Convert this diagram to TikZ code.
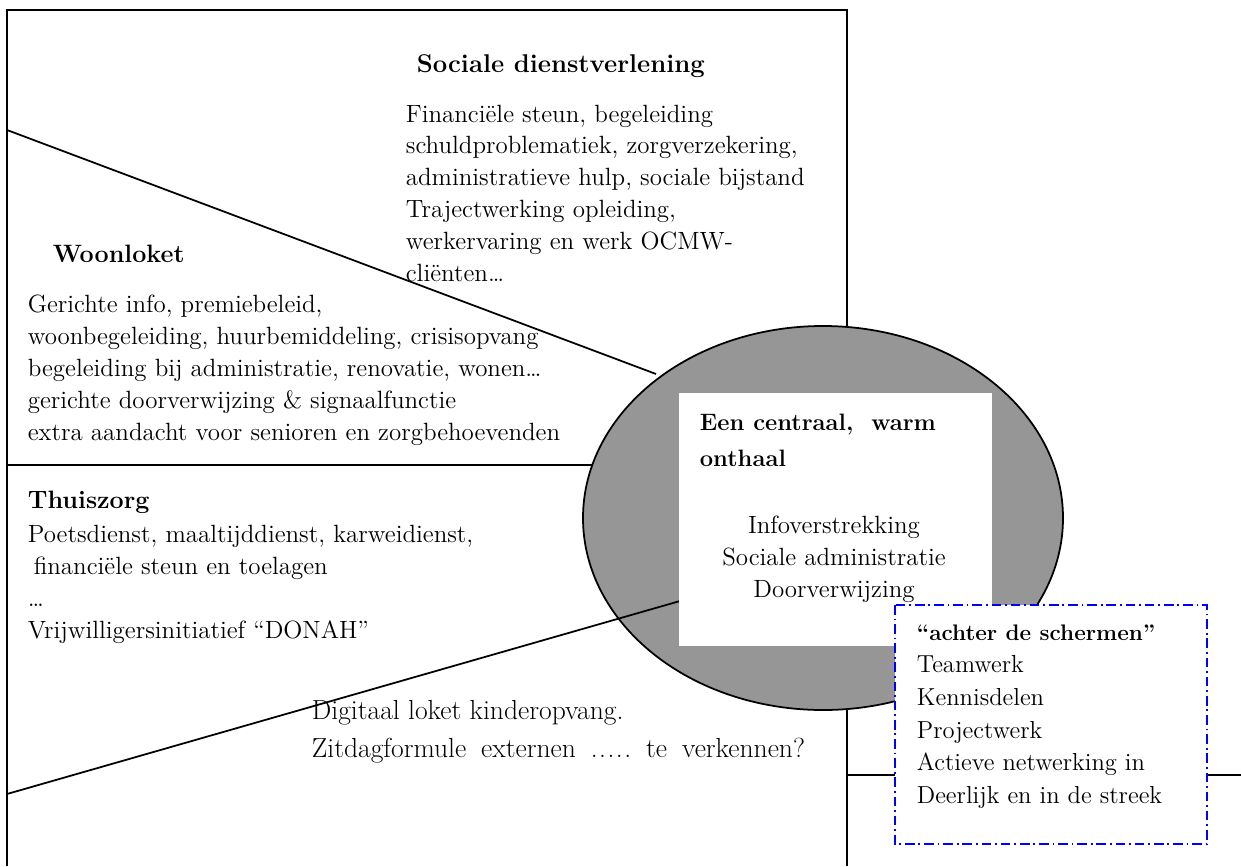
\documentclass[tikz,border=0pt]{standalone}
\usepackage{fontspec}
\usetikzlibrary{positioning}
\definecolor{ellgrey}{RGB}{150,150,150}

\begin{document}
\begin{tikzpicture}[x=0.02cm,y=-0.02cm,line width=1pt,
  body/.style={font=\fontsize{14.2}{18.1}\selectfont,align=left,inner sep=0pt,anchor=base west},
  hd/.style={body,font=\fontsize{14.3}{18.1}\selectfont\bfseries},
  hdbig/.style={body,font=\fontsize{14.6}{20.4}\selectfont\bfseries},
  bodybig/.style={body,font=\fontsize{15.7}{21.5}\selectfont}]
 \useasboundingbox (0,0) rectangle (1241,866);
 % frame and dividing lines
 \draw (7,866) -- (7,10) -- (847,10) -- (847,866);
 \draw (7,130) -- (656,374);
 \draw (7,465) -- (592,465);
 \draw (847,775) -- (1241,775);
 % centre
 \draw[fill=ellgrey] (823,518) ellipse (240 and 192);
 \draw (7,794) -- (680,601);
 \fill[white] (679,393) rectangle (992,646);
 \draw[blue,line width=0.8pt,fill=white,dash pattern=on 5.5pt off 2.2pt on 1pt off 2.2pt] (895,605) rectangle (1207,844);
 % Sociale dienstverlening (base = last line)
 \node[hdbig] (sochd) at (416,72) {Sociale dienstverlening};
 \node[body] (soctxt) at (405,281) {Financiële steun, begeleiding\\schuldproblematiek, zorgverzekering,\\administratieve hulp, sociale bijstand\\Trajectwerking opleiding,\\werkervaring en werk OCMW-\\cliënten…};
 % Woonloket
 \node[hd] (woonhd) at (52,262) {Woonloket};
 \node[body] (woontxt) at (27,440) {Gerichte info, premiebeleid,\\woonbegeleiding, huurbemiddeling, crisisopvang\\begeleiding bij administratie, renovatie, wonen…\\gerichte doorverwijzing \& signaalfunctie\\extra aandacht voor senioren en zorgbehoevenden};
 % Thuiszorg
 \node[hd] (thuishd) at (27,508) {Thuiszorg};
 \node[body] (thuistxt) at (27,638) {Poetsdienst, maaltijddienst, karweidienst,\\\hspace*{3.4pt}financiële steun en toelagen\\…\\Vrijwilligersinitiatief “DONAH”};
 % onthaal
 \node[hdbig,font=\fontsize{13.5}{20.4}\selectfont\bfseries] (onthd) at (699,466) {Een centraal,\ \ warm\\onthaal};
 \node[body,align=center,anchor=base] (onttxt) at (834,597) {Infoverstrekking\\Sociale administratie\\Doorverwijzing};
 \node[bodybig] (digi) at (311,757) {Digitaal loket kinderopvang.\\Zitdagformule\hspace{8.5pt}externen\hspace{8.5pt}\hbox to 23pt{.\hss.\hss.\hss.\hss.}\hspace{8.5pt}te\hspace{8.5pt}verkennen?};
 % achter de schermen
 \node[hd,font=\fontsize{12.8}{18.1}\selectfont\bfseries] (achhd) at (916,640) {“achter de schermen”};
 \node[body,font=\fontsize{14}{18.5}\selectfont] (achtxt) at (916,803) {Teamwerk\\Kennisdelen\\Projectwerk\\Actieve netwerking in\\Deerlijk en in de streek};
\end{tikzpicture}
\end{document}
